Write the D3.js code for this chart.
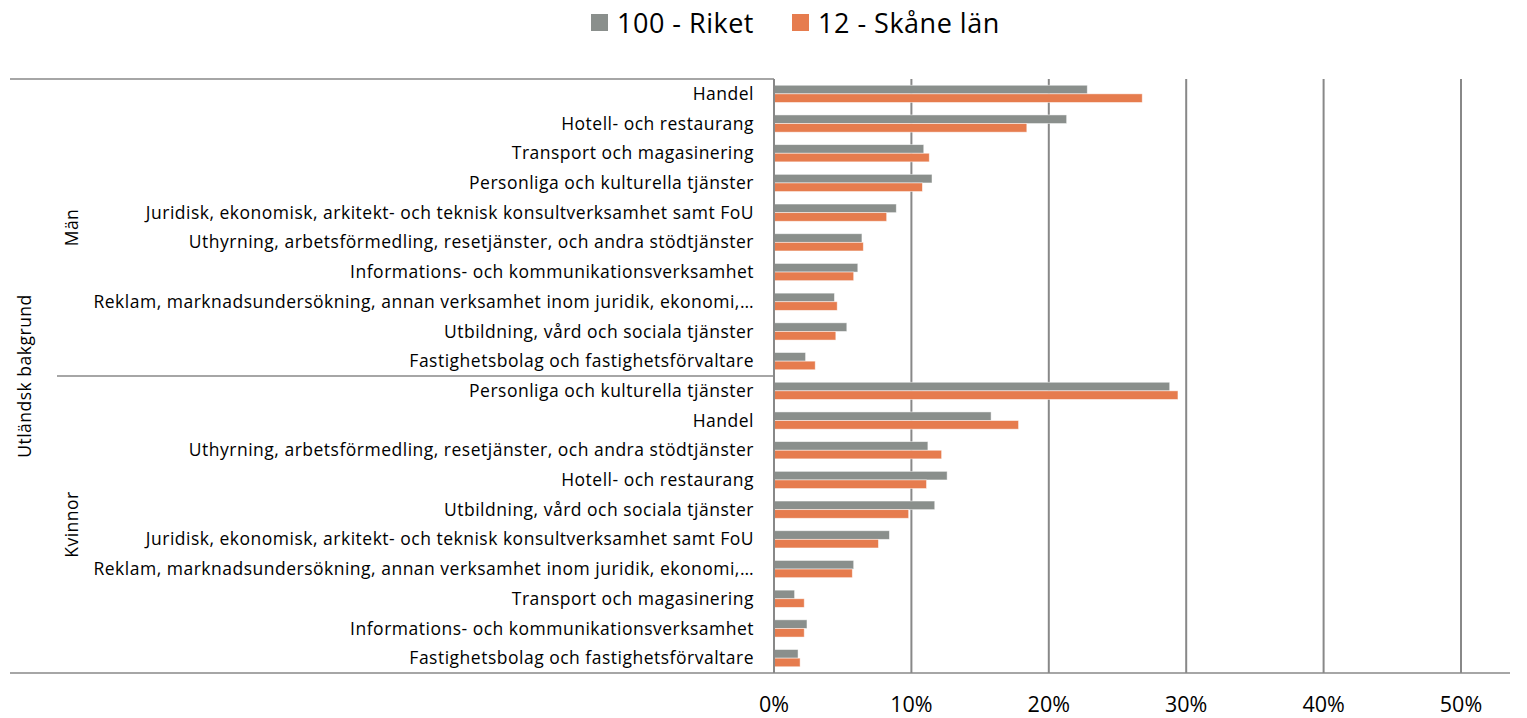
<!DOCTYPE html>
<html>
<head>
<meta charset="utf-8">
<script src="https://cdn.jsdelivr.net/npm/d3@7"></script>
<style>
  html, body { margin: 0; padding: 0; background: #fff; }
  svg { display: block; font-family: "Open Sans", "Noto Sans", sans-serif; }
</style>
</head>
<body>
<svg id="chart" width="1527" height="718"></svg>
<script>
// Industry shares of employed with foreign background, by sex
const groupOuter = "Utländsk bakgrund";
const groups = ["Män", "Kvinnor"];
const seriesNames = ["100 - Riket", "12 - Skåne län"];
const seriesColors = ["#8a8f8c", "#e67c4e"];

const menCategories = [
  "Handel",
  "Hotell- och restaurang",
  "Transport och magasinering",
  "Personliga och kulturella tjänster",
  "Juridisk, ekonomisk, arkitekt- och teknisk konsultverksamhet samt FoU",
  "Uthyrning, arbetsförmedling, resetjänster, och andra stödtjänster",
  "Informations- och kommunikationsverksamhet",
  "Reklam, marknadsundersökning, annan verksamhet inom juridik, ekonomi,…",
  "Utbildning, vård och sociala tjänster",
  "Fastighetsbolag och fastighetsförvaltare"
];
const menRiket = [0.228, 0.213, 0.109, 0.115, 0.089, 0.064, 0.061, 0.044, 0.053, 0.023];
const menSkane = [0.268, 0.184, 0.113, 0.108, 0.082, 0.065, 0.058, 0.046, 0.045, 0.030];

const womenCategories = [
  "Personliga och kulturella tjänster",
  "Handel",
  "Uthyrning, arbetsförmedling, resetjänster, och andra stödtjänster",
  "Hotell- och restaurang",
  "Utbildning, vård och sociala tjänster",
  "Juridisk, ekonomisk, arkitekt- och teknisk konsultverksamhet samt FoU",
  "Reklam, marknadsundersökning, annan verksamhet inom juridik, ekonomi,…",
  "Transport och magasinering",
  "Informations- och kommunikationsverksamhet",
  "Fastighetsbolag och fastighetsförvaltare"
];
const womenRiket = [0.288, 0.158, 0.112, 0.126, 0.117, 0.084, 0.058, 0.015, 0.024, 0.0175];
const womenSkane = [0.294, 0.178, 0.122, 0.111, 0.098, 0.076, 0.057, 0.022, 0.022, 0.019];

const xTicks = [0, 0.1, 0.2, 0.3, 0.4, 0.5];

// Flatten into rows
const rows = [];
menCategories.forEach((c, i) => rows.push({ key: "m" + i, group: 0, label: c, values: [menRiket[i], menSkane[i]] }));
womenCategories.forEach((c, i) => rows.push({ key: "k" + i, group: 1, label: c, values: [womenRiket[i], womenSkane[i]] }));

const svg = d3.select("#chart");
const plotLeft = 774, plotRight = 1461, plotTop = 79, plotBottom = 673;
const gridColor = "#888888";
const labelFont = 17.5;
const labelSpacing = "0.5px";

const x = d3.scaleLinear().domain([0, 0.5]).range([plotLeft, plotRight]);
const y = d3.scaleBand().domain(rows.map(r => r.key)).range([plotTop, plotBottom]).paddingInner(0.42).paddingOuter(0.21);
const ySeries = d3.scaleBand().domain([0, 1]).range([0, y.bandwidth()]).padding(0);

// Vertical gridlines
svg.append("g").selectAll("line")
  .data(xTicks.slice(1))
  .join("line")
  .attr("x1", d => x(d)).attr("x2", d => x(d))
  .attr("y1", plotTop).attr("y2", plotBottom)
  .attr("stroke", gridColor).attr("stroke-width", 2);

// Bars
const rowG = svg.append("g").selectAll("g")
  .data(rows)
  .join("g")
  .attr("transform", d => `translate(0,${y(d.key)})`);

rowG.selectAll("rect")
  .data(d => d.values.map((v, s) => ({ v, s })))
  .join("rect")
  .attr("x", x(0))
  .attr("y", d => ySeries(d.s))
  .attr("width", d => x(d.v) - x(0))
  .attr("height", ySeries.bandwidth())
  .attr("fill", d => seriesColors[d.s])
  .attr("stroke", "#ffffff")
  .attr("stroke-opacity", 0.6)
  .attr("stroke-width", 0.8);

// Category labels
const step = y.step();
svg.append("g").selectAll("text")
  .data(rows)
  .join("text")
  .attr("x", plotLeft - 20)
  .attr("y", d => y(d.key) + y.bandwidth() / 2)
  .attr("dy", "0.35em")
  .attr("text-anchor", "end")
  .attr("font-size", labelFont)
  .attr("letter-spacing", labelSpacing)
  .attr("fill", "#000")
  .text(d => d.label);

// Category axis line and frame lines
svg.append("line")
  .attr("x1", plotLeft).attr("x2", plotLeft)
  .attr("y1", plotTop).attr("y2", plotBottom)
  .attr("stroke", gridColor).attr("stroke-width", 2);
svg.append("line")
  .attr("x1", 10).attr("x2", plotLeft)
  .attr("y1", plotTop).attr("y2", plotTop)
  .attr("stroke", gridColor).attr("stroke-width", 1.5);
const sepY = y(rows[10].key) - (step - y.bandwidth()) / 2;
svg.append("line")
  .attr("x1", 57).attr("x2", plotLeft)
  .attr("y1", sepY).attr("y2", sepY)
  .attr("stroke", gridColor).attr("stroke-width", 1.5);
svg.append("line")
  .attr("x1", 10).attr("x2", 1510)
  .attr("y1", plotBottom).attr("y2", plotBottom)
  .attr("stroke", gridColor).attr("stroke-width", 1.5);

// Value axis labels
svg.append("g").selectAll("text")
  .data(xTicks)
  .join("text")
  .attr("x", d => x(d))
  .attr("y", 711.5)
  .attr("text-anchor", "middle")
  .attr("font-size", 21.5)
  .attr("fill", "#000")
  .text(d3.format(".0%"));

// Group labels (rotated)
const groupCenters = [
  (plotTop + sepY) / 2,
  (sepY + plotBottom) / 2
];
groups.forEach((g, i) => {
  svg.append("text")
    .attr("transform", `translate(72,${groupCenters[i]}) rotate(-90)`)
    .attr("dy", "0.35em")
    .attr("text-anchor", "middle")
    .attr("font-size", labelFont)
    .attr("letter-spacing", labelSpacing)
    .text(g);
});
svg.append("text")
  .attr("transform", `translate(25,${(plotTop + plotBottom) / 2}) rotate(-90)`)
  .attr("dy", "0.35em")
  .attr("text-anchor", "middle")
  .attr("font-size", labelFont)
  .attr("letter-spacing", labelSpacing)
  .text(groupOuter);

// Legend
const legend = svg.append("g");
const legendX = [591, 792];
seriesNames.forEach((n, i) => {
  const g = legend.append("g").attr("transform", `translate(${legendX[i]},0)`);
  g.append("rect").attr("x", 0).attr("y", 14).attr("width", 17).attr("height", 17).attr("fill", seriesColors[i]);
  g.append("text").attr("x", 26).attr("y", 23.5).attr("dy", "0.35em")
    .attr("font-size", 27).attr("letter-spacing", "0.5px").attr("fill", "#000").text(n);
});
</script>
</body>
</html>
